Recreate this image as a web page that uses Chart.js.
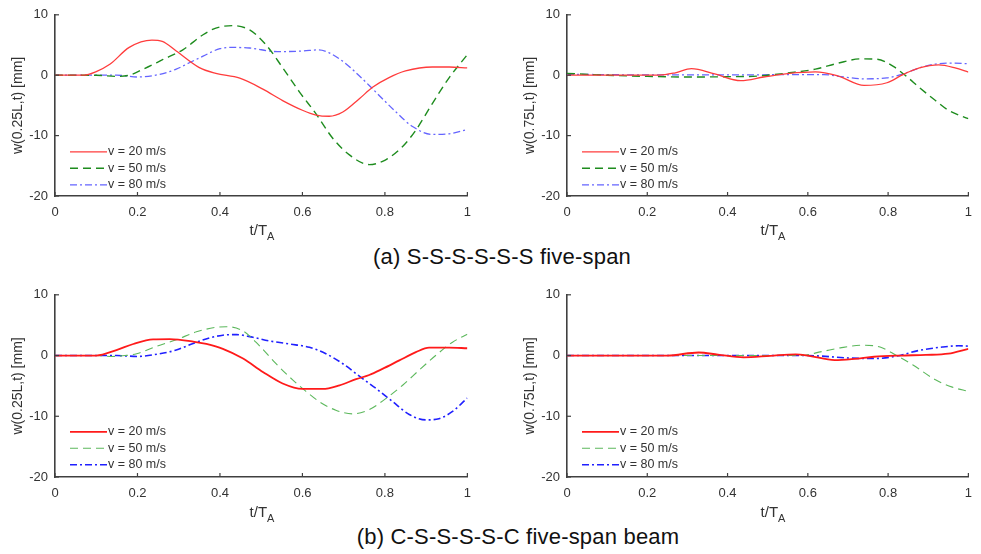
<!DOCTYPE html>
<html>
<head>
<meta charset="utf-8">
<script src="https://cdn.jsdelivr.net/npm/chart.js@4/dist/chart.umd.min.js"></script>
<style>
body{margin:0;background:#fff;width:981px;height:554px;position:relative;overflow:hidden;font-family:Arial,"Liberation Sans",sans-serif}
canvas{position:absolute}
.xlab{position:absolute;font-size:15px;line-height:15px;color:#333;transform:translateX(-50%);white-space:nowrap}
.xlab sub{font-size:11px;line-height:0;vertical-align:-5px}
.cap{position:absolute;font-size:22px;line-height:22px;color:#111;transform:translateX(-50%);white-space:nowrap;letter-spacing:0.2px}
</style>
</head>
<body>
<canvas id="a1"></canvas>
<canvas id="a2"></canvas>
<canvas id="b1"></canvas>
<canvas id="b2"></canvas>
<div class="xlab" style="left:262px;top:222px">t/T<sub>A</sub></div>
<div class="xlab" style="left:773px;top:222px">t/T<sub>A</sub></div>
<div class="xlab" style="left:262px;top:504px">t/T<sub>A</sub></div>
<div class="xlab" style="left:773px;top:504px">t/T<sub>A</sub></div>
<div class="cap" style="left:502px;top:246px">(a) S-S-S-S-S-S five-span</div>
<div class="cap" style="left:518px;top:526px">(b) C-S-S-S-S-C five-span beam</div>
<script>
// tick labels / legend
const xTicks = [0, 0.2, 0.4, 0.6, 0.8, 1];
const xTickLabels = ['0', '0.2', '0.4', '0.6', '0.8', '1'];
const yTicks = [-20, -10, 0, 10];
const speeds = ['v = 20 m/s', 'v = 50 m/s', 'v = 80 m/s'];

// (a) S-S-S-S-S-S, w(0.25L,t)
const a1_t20 = [0, 0.07, 0.1, 0.133, 0.18, 0.235, 0.26, 0.294, 0.35, 0.39, 0.448, 0.504, 0.552, 0.6, 0.633, 0.665, 0.698, 0.738, 0.77, 0.81, 0.85, 0.915, 0.956, 1];
const a1_w20 = [0, 0, 0.6, 1.8, 4.6, 5.8, 5.6, 4.0, 1.25, 0.3, -0.5, -2.3, -4.2, -5.8, -6.6, -6.8, -6.1, -3.9, -2.0, -0.4, 0.7, 1.36, 1.36, 1.2];
const a1_t50 = [0, 0.1, 0.15, 0.18, 0.214, 0.262, 0.31, 0.359, 0.39, 0.43, 0.472, 0.512, 0.552, 0.593, 0.633, 0.673, 0.714, 0.762, 0.802, 0.843, 0.875, 0.915, 0.956, 1];
const a1_w50 = [0, 0, -0.2, 0, 1.0, 2.6, 4.2, 6.7, 7.8, 8.2, 7.5, 5.0, 1.25, -2.8, -6.4, -10.4, -13.2, -14.8, -14.0, -11.8, -9.1, -4.7, -0.4, 3.4];
const a1_t80 = [0, 0.15, 0.2, 0.254, 0.294, 0.327, 0.359, 0.4, 0.431, 0.472, 0.54, 0.6, 0.64, 0.665, 0.698, 0.73, 0.762, 0.794, 0.827, 0.867, 0.915, 0.956, 1];
const a1_w80 = [0, 0, -0.3, 0.15, 1.0, 2.1, 3.15, 4.4, 4.6, 4.5, 3.9, 4.0, 4.2, 3.7, 2.3, 0.4, -1.7, -3.9, -6.1, -8.5, -9.8, -9.7, -9.0];

// (a) S-S-S-S-S-S, w(0.75L,t)
const a2_t20 = [0, 0.23, 0.27, 0.31, 0.368, 0.433, 0.49, 0.554, 0.619, 0.676, 0.74, 0.797, 0.837, 0.878, 0.926, 0.967, 1];
const a2_w20 = [0, 0, 0.4, 1.1, 0.2, -0.9, -0.3, 0.3, 0.55, -0.15, -1.7, -1.25, 0.1, 1.2, 1.7, 1.2, 0.5];
const a2_t50 = [0, 0.1, 0.2, 0.3, 0.4, 0.473, 0.554, 0.619, 0.676, 0.732, 0.773, 0.813, 0.845, 0.878, 0.918, 0.95, 1];
const a2_w50 = [0.3, 0, -0.2, -0.3, -0.25, -0.15, 0.4, 1.0, 2.0, 2.7, 2.65, 1.45, -0.15, -2.05, -4.2, -5.8, -7.2];
const a2_t80 = [0, 0.2, 0.4, 0.6, 0.64, 0.69, 0.74, 0.797, 0.837, 0.878, 0.918, 0.959, 1];
const a2_w80 = [0.15, 0.05, 0.05, 0.1, 0.1, -0.3, -0.6, -0.45, 0.2, 1.2, 1.85, 2.0, 1.9];

// (b) C-S-S-S-S-C, w(0.25L,t)
const b1_t20 = [0, 0.1, 0.149, 0.19, 0.238, 0.278, 0.335, 0.367, 0.407, 0.456, 0.504, 0.552, 0.6, 0.649, 0.69, 0.73, 0.762, 0.794, 0.835, 0.875, 0.907, 0.956, 1];
const b1_w20 = [0, 0, 0.9, 1.9, 2.65, 2.7, 2.3, 1.9, 1.1, -0.5, -2.7, -4.6, -5.5, -5.5, -4.9, -3.9, -3.2, -2.2, -0.8, 0.55, 1.3, 1.3, 1.2];
const b1_t50 = [0, 0.1, 0.14, 0.17, 0.198, 0.246, 0.294, 0.343, 0.391, 0.415, 0.456, 0.496, 0.536, 0.577, 0.6, 0.641, 0.681, 0.722, 0.762, 0.802, 0.843, 0.883, 0.923, 0.964, 1];
const b1_w50 = [0, 0, -0.15, 0, 0.3, 1.5, 2.6, 3.9, 4.65, 4.75, 4.05, 1.6, -1.35, -4.05, -5.4, -7.6, -9.0, -9.6, -8.9, -7.1, -4.9, -2.4, 0, 2.2, 3.5];
const b1_t80 = [0, 0.15, 0.2, 0.254, 0.294, 0.335, 0.375, 0.407, 0.44, 0.48, 0.52, 0.569, 0.617, 0.657, 0.698, 0.738, 0.778, 0.819, 0.859, 0.9, 0.931, 0.964, 1];
const b1_w80 = [0, 0, -0.15, 0.3, 0.9, 2.0, 2.9, 3.35, 3.45, 3.0, 2.4, 1.9, 1.35, 0.3, -1.35, -3.4, -5.4, -7.6, -9.7, -10.6, -10.4, -9.2, -7.0];

// (b) C-S-S-S-S-C, w(0.75L,t)
const b2_t20 = [0, 0.25, 0.328, 0.376, 0.44, 0.506, 0.57, 0.603, 0.667, 0.716, 0.765, 0.83, 0.894, 0.95, 1];
const b2_w20 = [0, 0, 0.5, 0.15, -0.3, -0.05, 0.2, -0.05, -0.75, -0.55, -0.2, 0, 0.1, 0.3, 1.1];
const b2_t50 = [0, 0.3, 0.58, 0.635, 0.684, 0.74, 0.78, 0.82, 0.862, 0.918, 0.96, 1];
const b2_w50 = [0, 0, 0, 0.65, 1.3, 1.7, 1.4, 0.05, -1.55, -4.0, -5.2, -5.9];
const b2_t80 = [0, 0.3, 0.6, 0.635, 0.7, 0.765, 0.82, 0.878, 0.935, 0.975, 1];
const b2_w80 = [0, 0, 0, -0.1, -0.4, -0.5, -0.1, 0.85, 1.4, 1.6, 1.55];

const axisColor = '#404040';
const textColor = '#333';
const fontFamily = 'Arial, "Liberation Sans", sans-serif';

// matlab-style ticks pointing into the plot
const inTicks = {
    id: 'inTicks',
    afterDraw(chart) {
        const { ctx, chartArea: a, scales: { x, y } } = chart;
        ctx.save();
        ctx.strokeStyle = axisColor;
        ctx.lineWidth = 1.2;
        x.ticks.forEach(t => {
            const px = x.getPixelForValue(t.value);
            ctx.beginPath(); ctx.moveTo(px, a.bottom); ctx.lineTo(px, a.bottom - 4); ctx.stroke();
        });
        y.ticks.forEach(t => {
            const py = y.getPixelForValue(t.value);
            ctx.beginPath(); ctx.moveTo(a.left, py); ctx.lineTo(a.left + 4, py); ctx.stroke();
        });
        ctx.restore();
    }
};

// legend inside the axes, lower left
const boxLegend = {
    id: 'boxLegend',
    afterDatasetsDraw(chart) {
        const { ctx, chartArea: a } = chart;
        chart.data.datasets.forEach((ds, i) => {
            const y = a.top + 137 + i * 16.5;
            ctx.save();
            ctx.strokeStyle = ds.borderColor;
            ctx.lineWidth = ds.borderWidth;
            ctx.setLineDash(ds.borderDash || []);
            ctx.beginPath(); ctx.moveTo(a.left + 15, y); ctx.lineTo(a.left + 52, y); ctx.stroke();
            ctx.setLineDash([]);
            ctx.fillStyle = textColor;
            ctx.font = '12.5px ' + fontFamily;
            ctx.textBaseline = 'middle';
            ctx.fillText(ds.label, a.left + 53, y);
            ctx.restore();
        });
    }
};

function pts(t, w) {
    return t.map((v, i) => ({ x: v, y: w[i] }));
}

function makePanel(id, box, yTitle, series) {
    const cv = document.getElementById(id);
    cv.width = box.w; cv.height = box.h;
    cv.style.left = box.x + 'px'; cv.style.top = box.y + 'px';
    new Chart(cv, {
        type: 'line',
        data: {
            datasets: series.map((s, i) => ({
                label: speeds[i],
                data: pts(s.t, s.w),
                borderColor: s.color,
                borderWidth: s.width,
                borderDash: s.dash,
                pointRadius: 0,
                cubicInterpolationMode: 'monotone',
                fill: false
            }))
        },
        options: {
            responsive: false,
            animation: false,
            layout: { padding: { left: 8, top: 10, right: box.padR, bottom: box.padB } },
            plugins: { legend: { display: false }, tooltip: { enabled: false } },
            scales: {
                x: {
                    type: 'linear', min: 0, max: 1,
                    afterFit: s => { s.height = 24; },
                    afterBuildTicks: s => { s.ticks = xTicks.map(v => ({ value: v })); },
                    ticks: {
                        callback: (v, i) => xTickLabels[i],
                        padding: 9, color: textColor, maxRotation: 0,
                        font: { size: 13, family: fontFamily }
                    },
                    grid: { drawOnChartArea: false, drawTicks: false },
                    border: { color: axisColor, width: 1.6 }
                },
                y: {
                    type: 'linear', min: -20, max: 10,
                    afterFit: s => { s.width = 47; },
                    afterBuildTicks: s => { s.ticks = yTicks.map(v => ({ value: v })); },
                    ticks: {
                        padding: 7, color: textColor,
                        font: { size: 13, family: fontFamily }
                    },
                    title: {
                        display: true, text: yTitle, color: textColor,
                        padding: { top: 2, bottom: 0 },
                        font: { size: 14, family: fontFamily }
                    },
                    grid: { drawOnChartArea: false, drawTicks: false },
                    border: { color: axisColor, width: 1.6 }
                }
            }
        },
        plugins: [inTicks, boxLegend]
    });
}

const dash50 = [8, 5];
const dash80 = [7, 3, 2, 3];

makePanel('a1', { x: 0, y: 0, w: 480, h: 225, padR: 12, padB: 5 }, 'w(0.25L,t) [mm]', [
    { t: a1_t20, w: a1_w20, color: '#ff3c3c', width: 1.3, dash: [] },
    { t: a1_t50, w: a1_w50, color: '#1e8c1e', width: 1.4, dash: dash50 },
    { t: a1_t80, w: a1_w80, color: '#6464ff', width: 1.3, dash: dash80 }
]);
makePanel('a2', { x: 512, y: 0, w: 469, h: 225, padR: 2, padB: 5 }, 'w(0.75L,t) [mm]', [
    { t: a2_t20, w: a2_w20, color: '#ff3c3c', width: 1.3, dash: [] },
    { t: a2_t50, w: a2_w50, color: '#1e8c1e', width: 1.4, dash: dash50 },
    { t: a2_t80, w: a2_w80, color: '#6464ff', width: 1.3, dash: dash80 }
]);
makePanel('b1', { x: 0, y: 280, w: 480, h: 225, padR: 12, padB: 4 }, 'w(0.25L,t) [mm]', [
    { t: b1_t20, w: b1_w20, color: '#ff1a1a', width: 1.8, dash: [] },
    { t: b1_t50, w: b1_w50, color: '#5cb85c', width: 1.1, dash: dash50 },
    { t: b1_t80, w: b1_w80, color: '#2020ff', width: 1.6, dash: dash80 }
]);
makePanel('b2', { x: 512, y: 280, w: 469, h: 225, padR: 2, padB: 4 }, 'w(0.75L,t) [mm]', [
    { t: b2_t20, w: b2_w20, color: '#ff1a1a', width: 1.8, dash: [] },
    { t: b2_t50, w: b2_w50, color: '#5cb85c', width: 1.1, dash: dash50 },
    { t: b2_t80, w: b2_w80, color: '#2020ff', width: 1.6, dash: dash80 }
]);
</script>
</body>
</html>
